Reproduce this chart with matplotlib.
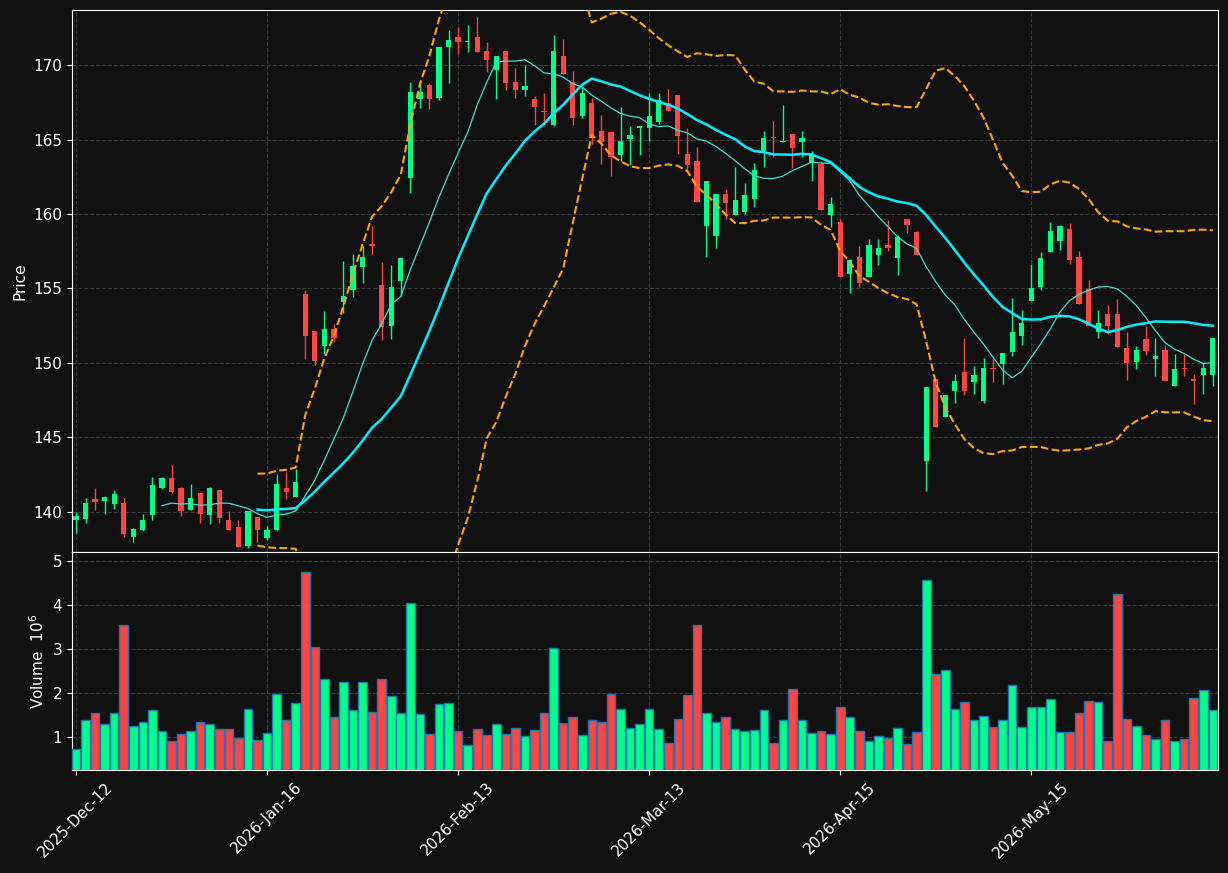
import matplotlib
matplotlib.use("Agg")
import matplotlib.pyplot as plt
import numpy as np
import pandas as pd

# OHLC per trading session (index 0..119)
opens = [139.42, 139.49, 140.83, 140.74, 140.54, 140.6, 138.28, 138.79, 139.8, 141.57,
         142.28, 141.61, 140.13, 141.28, 139.8, 141.48, 139.46, 138.99, 137.72, 139.66,
         138.26, 138.79, 141.61, 141.0, 154.65, 152.11, 151.12, 152.25, 154.12, 154.89,
         156.43, 157.98, 155.26, 152.46, 155.49, 162.4, 167.71, 168.68, 167.76, 171.2,
         171.87, 171.56, 171.87, 170.94, 169.69, 170.98, 168.86, 168.35, 167.7, 166.88,
         165.99, 170.6, 168.86, 166.59, 167.46, 165.59, 165.52, 163.99, 165.06, 165.77,
         165.76, 166.2, 167.48, 168.01, 164.04, 163.59, 159.2, 158.53, 161.36, 159.96,
         160.13, 161.03, 164.22, 165.13, 164.84, 165.4, 164.82, 163.44, 163.33, 159.93,
         159.44, 155.99, 157.09, 155.76, 157.24, 157.89, 157.04, 159.64, 158.77, 143.43,
         148.95, 146.35, 148.09, 149.42, 148.7, 147.42, 149.69, 149.91, 150.73, 151.82,
         154.15, 155.09, 157.43, 158.17, 159.0, 157.14, 154.98, 152.08, 153.3, 153.3,
         151.03, 150.07, 151.63, 150.29, 150.89, 148.46, 149.64, 148.91, 149.22, 149.22]
highs = [140.0, 140.92, 141.61, 141.05, 141.48, 140.92, 138.9, 139.84, 142.33, 142.35,
         143.15, 141.66, 141.86, 141.28, 141.66, 141.48, 140.04, 139.44, 140.07, 139.66,
         139.02, 142.55, 142.68, 142.89, 154.89, 152.11, 153.5, 152.62, 156.85, 157.29,
         157.82, 159.18, 156.78, 156.55, 157.13, 168.87, 168.91, 168.8, 171.22, 172.34,
         172.56, 172.72, 173.2, 171.56, 170.6, 170.98, 169.82, 170.04, 167.93, 168.13,
         172.0, 171.78, 169.6, 168.53, 167.77, 166.64, 165.52, 167.22, 165.9, 165.9,
         168.13, 168.13, 168.39, 168.01, 165.78, 164.49, 162.25, 161.36, 161.7, 163.15,
         162.1, 163.44, 165.6, 166.27, 167.34, 165.4, 165.6, 164.26, 163.55, 161.14,
         159.66, 157.0, 157.85, 158.34, 158.34, 159.62, 158.57, 159.69, 158.83, 148.36,
         148.95, 147.87, 149.26, 151.68, 149.8, 150.36, 150.25, 150.69, 154.37, 153.57,
         156.65, 157.48, 159.44, 159.26, 159.4, 157.5, 155.54, 153.57, 153.9, 154.29,
         152.08, 151.12, 152.5, 151.7, 151.23, 150.63, 150.63, 149.24, 150.0, 151.65]
lows = [138.6, 139.24, 140.09, 139.84, 140.18, 138.32, 137.94, 138.7, 139.44, 141.55,
        141.23, 139.69, 140.1, 139.22, 139.15, 139.24, 138.79, 137.65, 137.54, 137.94,
        138.1, 138.79, 140.87, 141.0, 150.26, 149.89, 150.63, 151.42, 153.36, 154.4,
        155.4, 157.29, 151.56, 151.63, 154.52, 161.4, 167.1, 167.07, 167.64, 168.82,
        170.76, 170.9, 170.9, 169.53, 167.7, 168.31, 167.77, 167.95, 165.97, 166.26,
        165.92, 169.42, 165.97, 166.44, 164.7, 163.36, 162.52, 163.59, 163.32, 163.99,
        164.93, 166.05, 166.9, 164.04, 162.92, 160.8, 157.1, 157.7, 159.69, 159.96,
        159.98, 160.47, 163.15, 163.82, 164.84, 163.1, 163.82, 162.25, 160.29, 159.13,
        155.76, 154.71, 155.13, 155.76, 156.57, 157.51, 155.92, 158.72, 157.24, 141.41,
        145.67, 146.35, 147.31, 147.87, 147.91, 147.31, 148.72, 148.59, 150.49, 151.23,
        154.15, 154.91, 157.43, 157.59, 156.61, 153.93, 152.48, 151.7, 151.96, 151.07,
        148.88, 149.62, 150.51, 149.1, 148.79, 148.46, 149.1, 147.23, 147.9, 148.44]
closes = [139.73, 140.6, 140.69, 141.0, 141.21, 138.52, 138.86, 139.46, 141.81, 142.28,
          141.34, 140.07, 140.94, 139.87, 141.61, 139.6, 138.79, 137.65, 140.07, 138.79,
          138.79, 141.88, 141.34, 142.01, 151.79, 150.12, 152.25, 151.7, 154.52, 156.48,
          157.08, 157.84, 152.44, 155.07, 157.02, 168.22, 168.22, 167.71, 171.22, 171.67,
          171.54, 171.65, 170.9, 170.33, 170.6, 168.82, 168.31, 168.57, 167.22, 166.84,
          170.94, 169.42, 166.44, 168.13, 165.08, 164.81, 163.81, 164.92, 165.32, 165.9,
          166.61, 167.66, 166.9, 165.27, 163.26, 160.8, 162.25, 161.36, 160.74, 160.96,
          161.25, 162.99, 165.11, 165.09, 164.93, 164.46, 165.13, 164.04, 160.29, 160.64,
          155.76, 156.88, 155.36, 157.89, 157.73, 157.71, 158.43, 159.24, 157.24, 148.36,
          145.67, 147.87, 148.81, 148.09, 149.22, 149.69, 149.57, 150.69, 152.05, 152.71,
          155.04, 157.05, 158.88, 159.22, 156.88, 153.93, 152.48, 152.7, 152.48, 151.07,
          150.0, 150.85, 150.8, 150.45, 148.79, 149.62, 149.58, 148.79, 149.69, 151.65]
# volume in millions
volumes = [0.72, 1.39, 1.55, 1.28, 1.55, 3.53, 1.25, 1.34, 1.6, 1.14,
           0.91, 1.07, 1.14, 1.34, 1.28, 1.18, 1.18, 0.98, 1.62, 0.93,
           1.09, 1.97, 1.39, 1.76, 4.75, 3.05, 2.31, 1.46, 2.24, 1.6,
           2.24, 1.57, 2.31, 1.92, 1.55, 4.03, 1.51, 1.07, 1.74, 1.76,
           1.14, 0.82, 1.18, 1.05, 1.3, 1.07, 1.21, 1.02, 1.16, 1.55,
           3.02, 1.32, 1.44, 1.05, 1.39, 1.34, 1.97, 1.64, 1.21, 1.28,
           1.64, 1.18, 0.86, 1.41, 1.94, 3.53, 1.53, 1.34, 1.44, 1.18,
           1.14, 1.16, 1.6, 0.86, 1.39, 2.08, 1.39, 1.09, 1.14, 1.07,
           1.67, 1.46, 1.14, 0.91, 1.02, 0.98, 1.21, 0.84, 1.11, 4.56,
           2.43, 2.52, 1.62, 1.8, 1.37, 1.48, 1.23, 1.39, 2.17, 1.23,
           1.67, 1.67, 1.85, 1.11, 1.11, 1.53, 1.82, 1.78, 0.91, 4.24,
           1.41, 1.25, 1.05, 0.95, 1.39, 0.91, 0.95, 1.87, 2.06, 1.6]
tick_pos = [0, 20, 40, 60, 80, 100]
tick_labels = ["2025-Dec-12", "2026-Jan-16", "2026-Feb-13",
               "2026-Mar-13", "2026-Apr-15", "2026-May-15"]

BG = "#111111"
UP = "#00ff88"
DOWN = "#ff4444"
GRID = "#3a3a3a"

df = pd.DataFrame({"o": opens, "h": highs, "l": lows, "c": closes, "v": volumes})
x = np.arange(len(df))
ma10 = df["c"].rolling(10).mean()
ma20 = df["c"].rolling(20).mean()
sd20 = df["c"].rolling(20).std(ddof=0)
bb_up = ma20 + 2 * sd20
bb_lo = ma20 - 2 * sd20

colors = np.where(df["c"] >= df["o"], UP, DOWN)

fig = plt.figure(figsize=(12.28, 8.73), dpi=100, facecolor=BG)
ax = fig.add_axes([0.0586, 0.3677, 0.9333, 0.6208])
axv = fig.add_axes([0.0586, 0.1180, 0.9333, 0.2497], sharex=ax)

for a in (ax, axv):
    a.set_facecolor(BG)
    for s in a.spines.values():
        s.set_color("white")
    a.tick_params(colors="white", labelsize=11)
    a.grid(True, color=GRID, linestyle="--", linewidth=0.8)
    a.set_axisbelow(True)

# candles
ax.vlines(x, df["l"], df["h"], colors=colors, linewidth=1.0, zorder=2)
body = (df["c"] - df["o"]).abs().clip(lower=0.06)
ax.bar(x, body, bottom=df[["o", "c"]].min(axis=1), width=0.55,
       color=colors, linewidth=0, zorder=3)

# overlays: bollinger (20, 2) and moving averages
ax.plot(x, bb_up, color="#ffa500", linestyle="--", linewidth=1.5, zorder=4)
ax.plot(x, bb_lo, color="#ffa500", linestyle="--", linewidth=1.5, zorder=4)
ax.plot(x, ma10, color="#40e0d0", linewidth=0.9, zorder=4)
ax.plot(x, ma20, color="#00f0ff", linewidth=1.8, zorder=5)

ax.set_ylim(137.3, 173.7)
ax.set_yticks([140, 145, 150, 155, 160, 165, 170])
ax.set_ylabel("Price", color="white", fontsize=11)
plt.setp(ax.get_xticklabels(), visible=False)

# volume
axv.bar(x, df["v"], width=0.9, color=colors, edgecolor="#1f77b4",
        linewidth=1.0, zorder=3)
axv.set_ylim(0.245, 5.2)
axv.set_yticks([1, 2, 3, 4, 5])
axv.set_ylabel("Volume  $10^{6}$", color="white", fontsize=11)
axv.set_xlim(-0.42, 119.55)
axv.set_xticks(tick_pos)
axv.set_xticklabels(tick_labels, rotation=45, ha="center")

fig.savefig("out.png", dpi=100, facecolor=BG)
